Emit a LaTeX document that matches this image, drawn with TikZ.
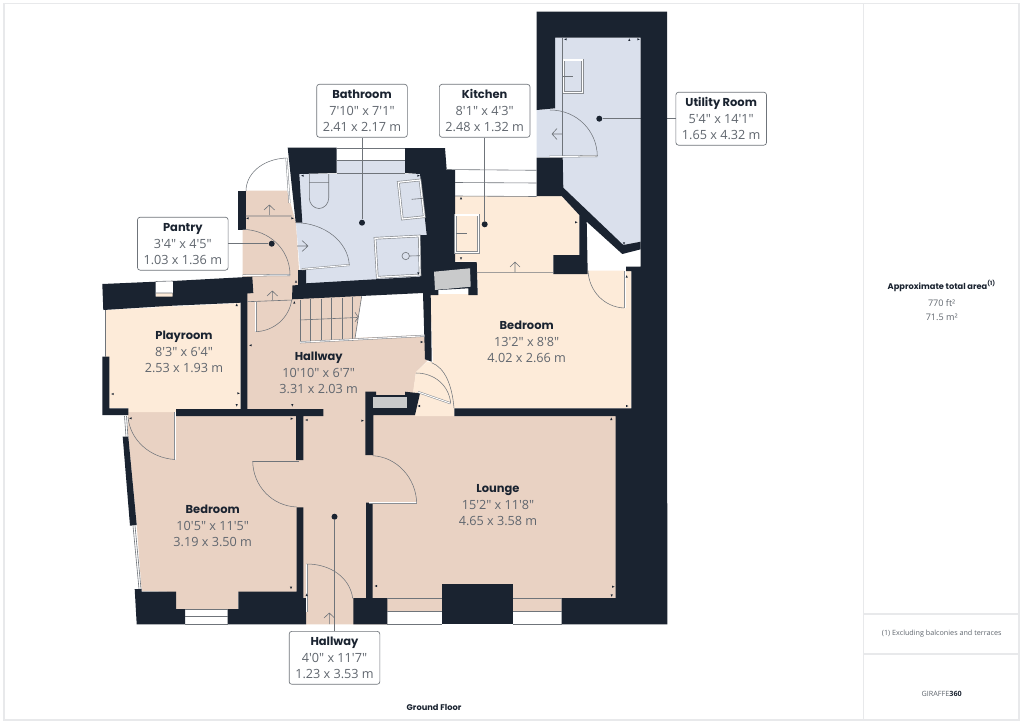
\documentclass[tikz,border=0pt]{standalone}
\usepackage{fontspec}
\setmainfont{Poppins}
\newfontfamily\dimfont{Open Sans}
\usetikzlibrary{positioning}
\definecolor{wallink}{HTML}{1A2330}
\definecolor{peachroom}{HTML}{FDEBD9}
\definecolor{tanroom}{HTML}{E9D2C3}
\definecolor{blueroom}{HTML}{DAE0EC}
\definecolor{fittinggrey}{HTML}{C9CACB}
\definecolor{thinline}{HTML}{6F747A}
\definecolor{leafgrey}{HTML}{8A8E93}
\definecolor{dimtext}{HTML}{60666E}
\definecolor{framegrey}{HTML}{E8E9EB}
\newcommand{\roomlabel}[3]{{\fontsize{8.6}{12}\selectfont\bfseries\color{wallink}#1}\\[0.6pt]{\dimfont\fontsize{9.5}{10.9}\selectfont #2}\\{\dimfont\fontsize{9.5}{10.9}\selectfont #3}}
\tikzset{
  wall/.style = {fill=wallink},
  tanfill/.style = {fill=tanroom},
  peachfill/.style = {fill=peachroom},
  bluefill/.style = {fill=blueroom},
  fine/.style = {draw=thinline, line width=.45pt},
  doorleaf/.style = {draw=leafgrey, line width=.4pt, double=white, double distance=.7pt},
  fitting/.style = {draw=leafgrey, line width=.5pt, double=none, double distance=.9pt},
  doorarc/.style = {draw=thinline, line width=.4pt},
  leader/.style = {draw=thinline, line width=.55pt},
  roombox/.style = {draw=thinline, fill=white, rounded corners=2pt, line width=.5pt, minimum width=68pt, minimum height=39.7pt, inner sep=0pt, align=center, text=dimtext},
  roomtext/.style = {align=center, text=dimtext, inner sep=0pt},
  roomdot/.style = {circle, fill=wallink, inner sep=0pt, minimum size=4.5pt},
  panelhead/.style = {font=\fontsize{6.2}{8}\selectfont\bfseries, text=wallink, inner sep=0pt},
  paneltext/.style = {font=\dimfont\fontsize{6.8}{8}\selectfont, text=dimtext, inner sep=0pt},
  panelnote/.style = {font=\dimfont\fontsize{5.4}{8}\selectfont, text=dimtext, inner sep=0pt}
}
\begin{document}
\begin{tikzpicture}[x=.75pt, y=-.75pt]
\useasboundingbox (0,0) rectangle (1024,724);
\fill[white] (0,0) rectangle (1024,724);
% sheet frame
\draw[framegrey, line width=.9pt] (4,3.5) rectangle (1019,720);
\draw[framegrey, line width=.9pt] (863.5,3.5) -- (863.5,720) (863.5,614) -- (1019,614) (863.5,654) -- (1019,654);
% room floors
\fill[tanfill] (247,303) -- (242.7,276) -- (242.7,230) -- (246,230) -- (246,190.7) -- (287,190.7) -- (296,223) -- (300,285) -- (361.7,296.5) -- (355,338) -- (424,335) -- (428,360) -- (416,372) -- (413,395) -- (415,416) -- (616,416) -- (616,598) -- (561.7,598) -- (561.7,611) -- (387,611) -- (387,624.3) -- (306,624.3) -- (306,600) -- (238,592) -- (238,609) -- (176,609) -- (176,592) -- (141.7,591) -- (136.7,525) -- (128.3,436.7) -- (127.7,412) -- (176,412) -- (176,409) -- (247,409) -- cycle;
\fill[peachfill] (106,310) -- (240.7,303) -- (240.7,409) -- (176,409) -- (176,412) -- (128,412) -- (128,408) -- (109,408) -- (109,357) -- (105,357) -- cycle;
\fill[peachfill] (155.7,293) rectangle (172.7,307);
\fill[peachfill] (455,196) -- (561.7,196) -- (579.3,215) -- (579.3,255) -- (553.3,255) -- (553.3,273) -- (476.7,273) -- (476,261.7) -- (455,261.7) -- cycle;
\fill[peachfill] (430,294) -- (478,294) -- (477,272) -- (553,272) -- (553,274) -- (587,274) -- (587,270.7) -- (631.3,270.7) -- (631.3,408.3) -- (454.3,408.3) -- (454.3,416) -- (415,416) -- (413,392) -- (416,372) -- (427,362) -- (433,362) -- cycle;
\fill[bluefill] (299,174) -- (420,174) -- (426.7,235) -- (420,235) -- (420,277) -- (306,284) -- (300,270) -- (296,223) -- cycle;
\fill[bluefill] (336.7,160) rectangle (405,175);
\fill[bluefill] (555,37.7) -- (640.7,37.7) -- (640.7,241.7) -- (623.3,245) -- (563.3,187.7) -- (562.7,157) -- (536.7,157) -- (536.7,110) -- (555,108.3) -- cycle;
% labels and leaders
\node[roombox] (bathroom) at (362,110.8) {\roomlabel{Bathroom}{7'10" x 7'1"}{2.41 x 2.17 m}};
\node[roombox] (pantry) at (182.8,243.7) {\roomlabel{Pantry}{3'4" x 4'5"}{1.03 x 1.36 m}};
\node[roombox] (kitchen) at (484.7,110.8) {\roomlabel{Kitchen}{8'1" x 4'3"}{2.48 x 1.32 m}};
\node[roombox] (utility) at (721.2,118.7) {\roomlabel{Utility Room}{5'4" x 14'1"}{1.65 x 4.32 m}};
\node[roombox] (hallwaylow) at (334.5,657.8) {\roomlabel{Hallway}{4'0" x 11'7"}{1.23 x 3.53 m}};
\node[roomdot] (bathroomdot) at (362,222.7) {};
\node[roomdot] (pantrydot) at (271.7,243.7) {};
\node[roomdot] (kitchendot) at (484.7,224.3) {};
\node[roomdot] (utilitydot) at (599.3,118.7) {};
\node[roomdot] (hallwaylowdot) at (334.5,516.7) {};
\draw[leader] (bathroom) -- (bathroomdot);
\draw[leader] (pantry) -- (pantrydot);
\draw[leader] (kitchen) -- (kitchendot);
\draw[leader] (utility) -- (utilitydot);
\draw[leader] (hallwaylow) -- (hallwaylowdot);
% walls
\fill[wall] (536.7,11.7) -- (667,11.7) -- (667.3,624.3) -- (561.7,624.3) -- (561.7,598) -- (615.7,598) -- (615.7,416) -- (454.3,416) -- (454.3,408.3) -- (631.3,408.3) -- (631.3,271) -- (626,271) -- (626,266.7) -- (640.7,266.7) -- (640.7,37.7) -- (555,37.7) -- (555,108.3) -- (536.7,110) -- cycle;
\fill[wall] (536.7,157.7) -- (562.7,157.7) -- (563.3,187.7) -- (623.3,245) -- (640.7,241.7) -- (640.7,249.3) -- (622.3,254) -- (586.7,221.7) -- (587.7,274) -- (553.3,274) -- (553.3,255) -- (579.3,255) -- (579.3,215) -- (561.7,196) -- (536.7,196) -- cycle;
\fill[wall] (405,148) -- (445,148) -- (446.7,170) -- (455,170) -- (455,262) -- (476.7,262) -- (477.7,295) -- (468.3,295) -- (468.3,288.3) -- (438.3,290) -- (438.3,295) -- (430.7,295) -- (431.7,361.7) -- (425,359.3) -- (423,293) -- (292,299.3) -- (292.5,285.5) -- (298,285) -- (298,270) -- (306,270) -- (306,283.3) -- (420,276.7) -- (420,235) -- (426.7,235) -- (420,174) -- (405,173) -- cycle;
\fill[fittinggrey] (434,271.7) -- (470,268.3) -- (470.7,286.7) -- (435,290) -- cycle;
\fill[wall] (287.7,147.7) -- (336.7,147.7) -- (336.7,173) -- (299.3,174) -- (302.3,222.7) -- (295.7,222.7) -- cycle;
\fill[wall] (237.7,190.7) rectangle (245.7,230);
\fill[wall] (102.3,284) -- (155.7,281.7) -- (155.7,296.7) -- (172.7,296.7) -- (172.7,281) -- (252.3,276.7) -- (253.3,293) -- (247.3,293.5) -- (247.3,409) -- (323.3,409) -- (323.3,416) -- (303.3,416) -- (303.3,460) -- (296,460) -- (296,416) -- (176,416) -- (176,409) -- (240.7,409) -- (240.7,302.7) -- (172.7,305.7) -- (155.7,306.7) -- (103.3,310) -- cycle;
\fill[white] (155.7,281.5) rectangle (172.7,293);
\fill[wall] (102.3,356.7) -- (109.3,356.7) -- (109.3,408.3) -- (128.3,408.3) -- (128.3,415) -- (102.3,415) -- cycle;
\fill[wall] (122.7,436.7) -- (128.3,436.7) -- (136.7,525) -- (130,525.7) -- cycle;
\fill[wall] (134.7,589) -- (141.7,589) -- (141.7,591.7) -- (176,591.7) -- (176,609) -- (185,609) -- (185,624.3) -- (136.7,624.3) -- cycle;
\fill[wall] (227.7,609) -- (238.3,609) -- (238.3,591.7) -- (296.7,591.7) -- (296.7,507.3) -- (303.3,507.3) -- (303.3,598) -- (306,598) -- (306,624.3) -- (227.7,624.3) -- cycle;
\fill[wall] (366,502.7) -- (372.7,502.7) -- (372.7,598) -- (387.3,598) -- (387.3,624.3) -- (353.3,624.3) -- (353.3,598) -- (366,598) -- cycle;
\fill[wall] (365.3,391.7) -- (376,391.7) -- (376,395) -- (405,395) -- (405,391.7) -- (420,393.3) -- (415,415) -- (373.3,415) -- (373.3,455) -- (365.3,455) -- cycle;
\fill[fittinggrey] (372.7,396.7) rectangle (406.7,408.3);
\fill[wall] (441.7,584.3) rectangle (513.3,624.3);
% windows and thin outlines
\draw[fine] (336.7,148) -- (405,148) (336.7,160) -- (405,160) (336.7,173) -- (405,173);
\draw[fine] (155.7,293) -- (172.7,293) (155.7,281.5) -- (172.7,281);
\draw[fine] (185,609) -- (227.7,609) (185,616.7) -- (227.7,616.7) (185,624.3) -- (227.7,624.3);
\draw[fine] (387.3,598) -- (441.7,598) (387.3,611) -- (441.7,611) (387.3,624.3) -- (441.7,624.3);
\draw[fine] (513.3,598) -- (561.7,598) (513.3,611) -- (561.7,611) (513.3,624.3) -- (561.7,624.3);
\draw[fine] (446,169.5) -- (536.7,170.3) (455,182.5) -- (536.7,183) (455,196) -- (536.7,196.5);
\draw[fine] (105,310) -- (105,357);
\draw[fine] (133,525.7) -- (139,589) (135,525.5) -- (141,589);
\draw[fine] (124.5,416) -- (126,437) (126.5,416) -- (128,437);
\draw[fine] (562.7,37.7) -- (562.7,157);
% doors
\draw[doorleaf] (286.5,158) -- (289.5,203);
\draw[doorarc] (286.5,158) .. controls (262,159) and (246,174) .. (246,191);
\draw[doorleaf] (242.7,275.5) -- (290,275);
\draw[doorarc] (242.7,229.3) .. controls (270,230) and (290,250) .. (290,275);
\draw[doorleaf] (301.7,269.3) -- (349.3,265);
\draw[doorarc] (295.7,222.7) .. controls (325,223) and (348,242) .. (349.3,265);
\draw[doorleaf] (255.7,301.7) -- (255.7,331.7);
\draw[doorarc] (255.7,331.7) .. controls (274,331) and (289,318) .. (291.7,300);
\draw[doorleaf] (175,412) -- (175,459.5);
\draw[doorarc] (175,459.5) .. controls (150,458) and (130,440) .. (128,417);
\draw[fine] (252.7,461) -- (299.3,461);
\draw[doorarc] (252.7,461) .. controls (253,486) and (272,506) .. (296.7,507);
\draw[doorleaf] (369.3,502.7) -- (416.7,502.7);
\draw[doorarc] (372.7,455.7) .. controls (397,457) and (416,478) .. (416.7,503);
\draw[doorleaf] (306.7,564) -- (306.7,611.7);
\draw[doorarc] (306.7,564) .. controls (331,564) and (350,578) .. (352.7,598.3);
\draw[doorleaf] (418,392) -- (450.7,403.3);
\draw[doorarc] (416,373) .. controls (434,373) and (449,385) .. (450.7,403.3);
\draw[doorarc] (431.7,362.7) .. controls (445,368) and (452,385) .. (454,408);
\draw[doorleaf] (625,271) -- (625,308);
\draw[doorarc] (588,270.7) .. controls (589,291) and (604,307) .. (624,308);
\draw[doorleaf] (549.3,156.7) -- (597.3,156);
\draw[doorarc] (550,110) .. controls (577,110) and (597,131) .. (597.3,156);
\draw[fine] (245.7,216) -- (291.7,216) (247.3,301.7) -- (292.3,300) (476.7,272.3) -- (553.3,272.3);
% direction arrows
\draw[fine] (269.3,215) -- (269.3,205) (264,210) -- (269.3,205) -- (274.6,210);
\draw[fine] (272.3,300) -- (272.3,291) (267,296) -- (272.3,291) -- (277.6,296);
\draw[fine] (515,272) -- (515,262) (510,267) -- (515,262) -- (520,267);
\draw[fine] (329.3,624) -- (329.3,613) (324,618) -- (329.3,613) -- (334.6,618);
\draw[fine] (297,246) -- (308,246) (302,240.5) -- (308,246) -- (302,251.5);
\draw[fine] (562,134) -- (552,134) (557,128.5) -- (552,134) -- (557,139.5);
% stairs
\foreach \stepx/\stepy in {300/299.5, 310.7/299, 321.7/298.5, 331.7/298, 342.3/297.5, 352.3/297}
  \draw[fine] (\stepx,\stepy) -- (\stepx,341);
\draw[fine] (300,320) -- (357,317.5) (361.7,296) -- (355,338.3) (355,312.3) -- (358.3,317.3) -- (355,321.7);
\draw[doorleaf] (300,342.3) -- (424.3,335.8);
% fittings
\draw[fine] (309.3,174) -- (309.3,198) .. controls (309.3,204) and (314,208.5) .. (319,208.5) .. controls (324,208.5) and (328.7,204) .. (328.7,198) -- (328.7,174) (309.3,182.3) -- (328.7,182.3);
\draw[fitting] (398.3,182.3) -- (420,180) -- (424.3,216.7) -- (402.3,219) -- cycle;
\draw[fine] (411.7,199.3) -- (423.3,198.3);
\draw[fitting] (375,238.3) -- (419.3,236) -- (420,275) -- (377.3,277.3) -- cycle;
\draw[fine] (405.7,256) circle (3.7) (409.4,256) -- (420,255.7);
\draw[fitting] (563.8,60) rectangle (582.7,92.7);
\draw[fine] (563.3,76) -- (573,76);
\draw[fitting] (455.7,215) rectangle (478.3,252.3);
\draw[fine] (455.7,233) -- (466.7,233);
% wall ticks
\foreach \tickx/\ticky/\tickang in {302.7/175.7/180, 418.3/175.7/0, 418.3/273.3/270, 247.7/218.3/180, 292.3/218.3/0, 296/281.7/90, 294.3/302.7/90,
  565.7/39.3/180, 629.3/40/90, 638.3/39.3/0, 461/198.3/90, 576/222.3/0, 461/258.3/270, 624/243.3/270, 626.7/276.7/90,
  236.7/305/90, 236.7/405/270, 250.7/345.3/180, 112.7/394/180, 238.3/393.3/0, 130.7/418.3/180, 292.3/405/270, 291.7/418.7/0, 306.7/420/180, 421.7/342/0, 419/406/180, 362.3/420.7/0,
  291/587.7/270, 306.7/595/90, 376/586/180, 627/406/0, 611.3/419/90, 613/586.7/0, 611.7/595.3/270}
  \fill[wallink, shift={(\tickx,\ticky)}, rotate=\tickang] (1.5,0) -- (-1,1.1) -- (-1,-1.1) -- cycle;
% room names without a box
\node[roomtext] (playroom) at (184,351.7) {\roomlabel{Playroom}{8'3" x 6'4"}{2.53 x 1.93 m}};
\node[roomtext] (hallwayup) at (318.7,372.7) {\roomlabel{Hallway}{10'10" x 6'7"}{3.31 x 2.03 m}};
\node[roomtext] (bedroomtop) at (526.7,341.7) {\roomlabel{Bedroom}{13'2" x 8'8"}{4.02 x 2.66 m}};
\node[roomtext] (lounge) at (498,504.7) {\roomlabel{Lounge}{15'2" x 11'8"}{4.65 x 3.58 m}};
\node[roomtext] (bedroomlow) at (212.7,525.7) {\roomlabel{Bedroom}{10'5" x 11'5"}{3.19 x 3.50 m}};
\node[panelhead] (floorname) at (434,707) {Ground Floor};
% side panel
\node[panelhead] (areahead) at (941.7,286) {Approximate total area\textsuperscript{(1)}};
\node[paneltext] (areaft) at (941.7,303.3) {770 ft²};
\node[paneltext] (aream) at (941.7,317.3) {71.5 m²};
\node[panelnote] (areanote) at (941.7,633.3) {(1) Excluding balconies and terraces};
\node[panelnote] (brand) at (941.7,694) {GIRAFFE\textbf{\color{wallink}360}};
\end{tikzpicture}
\end{document}
